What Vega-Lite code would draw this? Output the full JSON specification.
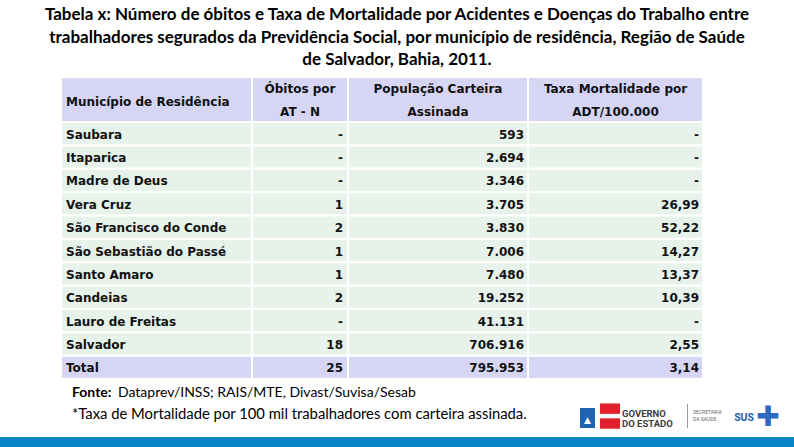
{
  "$schema": "https://vega.github.io/schema/vega-lite/v6.json",
  "background": "white",
  "padding": {"top": 6, "left": 0, "right": 0, "bottom": 0},
  "config": {
    "view": {"stroke": null},
    "locale": {"number": {"decimal": ",", "thousands": ".", "grouping": [3], "currency": ["R$", ""]}}
  },
  "title": {
    "text": [
      "Tabela x: Número de óbitos e Taxa de Mortalidade por Acidentes e Doenças do Trabalho entre",
      "trabalhadores segurados da Previdência Social, por município de residência, Região de Saúde",
      "de Salvador, Bahia, 2011."
    ],
    "anchor": "middle",
    "font": "Lato",
    "fontSize": 17,
    "fontWeight": "bold",
    "lineHeight": 22.5,
    "offset": 9,
    "color": "#000000"
  },
  "datasets": {
    "tab": [
      {"mun": "Saubara", "obitos": null, "pop": 593, "taxa": null},
      {"mun": "Itaparica", "obitos": null, "pop": 2694, "taxa": null},
      {"mun": "Madre de Deus", "obitos": null, "pop": 3346, "taxa": null},
      {"mun": "Vera Cruz", "obitos": 1, "pop": 3705, "taxa": 26.99},
      {"mun": "São Francisco do Conde", "obitos": 2, "pop": 3830, "taxa": 52.22},
      {"mun": "São Sebastião do Passé", "obitos": 1, "pop": 7006, "taxa": 14.27},
      {"mun": "Santo Amaro", "obitos": 1, "pop": 7480, "taxa": 13.37},
      {"mun": "Candeias", "obitos": 2, "pop": 19252, "taxa": 10.39},
      {"mun": "Lauro de Freitas", "obitos": null, "pop": 41131, "taxa": null},
      {"mun": "Salvador", "obitos": 18, "pop": 706916, "taxa": 2.55},
      {"mun": "Total", "obitos": 25, "pop": 795953, "taxa": 3.14}
    ],
    "head": [
      {"col": "c1", "label": "Município de Residência"},
      {"col": "c2", "label": "Óbitos por\nAT - N"},
      {"col": "c3", "label": "População Carteira\nAssinada"},
      {"col": "c4", "label": "Taxa Mortalidade por\nADT/100.000"}
    ],
    "foot": [
      {"line": "l1", "bold": "Fonte:", "text": "Dataprev/INSS; RAIS/MTE, Divast/Suvisa/Sesab"},
      {"line": "l2", "bold": "", "text": "*Taxa de Mortalidade por 100 mil trabalhadores com carteira assinada."}
    ],
    "logo": [
      {"part": "flag", "label": "▲"},
      {"part": "bars", "bar": "top"},
      {"part": "bars", "bar": "bottom"},
      {"part": "gov", "label": "GOVERNO\nDO ESTADO"},
      {"part": "sep"},
      {"part": "sec", "label": "SECRETARIA\nDA SAÚDE"},
      {"part": "sus", "label": "SUS"},
      {"part": "cross", "label": "✚"}
    ]
  },
  "spacing": 2,
  "vconcat": [
    {
      "spacing": 2,
      "hconcat": [
        {"width": 60, "height": 43, "data": {"name": "head"}, "transform": [{"filter": "false"}], "mark": "point"},
        {
          "width": 189, "height": 43,
          "data": {"name": "head"},
          "transform": [{"filter": "datum.col === 'c1'"}],
          "view": {"fill": "#d6d6f4", "stroke": null},
          "mark": {"type": "text", "align": "left", "baseline": "middle", "dx": 4, "dy": 2.5, "font": "DejaVu Sans", "fontSize": 12, "fontWeight": "bold", "color": "#111111"},
          "encoding": {
            "x": {"datum": 0, "type": "quantitative", "scale": {"domain": [0, 1]}, "axis": null},
            "text": {"field": "label", "type": "nominal"}
          }
        },
        {
          "width": 94, "height": 43,
          "data": {"name": "head"},
          "transform": [{"filter": "datum.col === 'c2'"}],
          "view": {"fill": "#d6d6f4", "stroke": null},
          "mark": {"type": "text", "align": "center", "baseline": "middle", "lineBreak": "\n", "lineHeight": 23, "dy": -10.5, "font": "DejaVu Sans", "fontSize": 12, "fontWeight": "bold", "color": "#111111"},
          "encoding": {"text": {"field": "label", "type": "nominal"}}
        },
        {
          "width": 178, "height": 43,
          "data": {"name": "head"},
          "transform": [{"filter": "datum.col === 'c3'"}],
          "view": {"fill": "#d6d6f4", "stroke": null},
          "mark": {"type": "text", "align": "center", "baseline": "middle", "lineBreak": "\n", "lineHeight": 23, "dy": -10.5, "font": "DejaVu Sans", "fontSize": 12, "fontWeight": "bold", "color": "#111111"},
          "encoding": {"text": {"field": "label", "type": "nominal"}}
        },
        {
          "width": 173, "height": 43,
          "data": {"name": "head"},
          "transform": [{"filter": "datum.col === 'c4'"}],
          "view": {"fill": "#d6d6f4", "stroke": null},
          "mark": {"type": "text", "align": "center", "baseline": "middle", "lineBreak": "\n", "lineHeight": 23, "dy": -10.5, "font": "DejaVu Sans", "fontSize": 12, "fontWeight": "bold", "color": "#111111"},
          "encoding": {"text": {"field": "label", "type": "nominal"}}
        }
      ]
    },
    {
      "spacing": 2,
      "hconcat": [
        {"width": 60, "height": 255, "data": {"name": "head"}, "transform": [{"filter": "false"}], "mark": "point"},
        {
          "width": 189, "height": 255,
          "data": {"name": "tab"},
          "encoding": {"y": {"field": "mun", "type": "nominal", "sort": null, "axis": null, "scale": {"type": "band", "paddingInner": 0.095, "paddingOuter": 0}}},
          "layer": [
            {"mark": {"type": "rect"}, "encoding": {"color": {"condition": {"test": "datum.mun === 'Total'", "value": "#d6d6f4"}, "value": "#e6f2ea"}}},
            {
              "mark": {"type": "text", "align": "left", "baseline": "middle", "dx": 4, "dy": 1, "font": "DejaVu Sans", "fontSize": 12, "fontWeight": "bold", "color": "#111111"},
              "encoding": {
                "x": {"datum": 0, "type": "quantitative", "scale": {"domain": [0, 1]}, "axis": null},
                "text": {"field": "mun", "type": "nominal"}
              }
            }
          ]
        },
        {
          "width": 94, "height": 255,
          "data": {"name": "tab"},
          "encoding": {"y": {"field": "mun", "type": "nominal", "sort": null, "axis": null, "scale": {"type": "band", "paddingInner": 0.095, "paddingOuter": 0}}},
          "layer": [
            {"mark": {"type": "rect"}, "encoding": {"color": {"condition": {"test": "datum.mun === 'Total'", "value": "#d6d6f4"}, "value": "#e6f2ea"}}},
            {
              "mark": {"type": "text", "align": "right", "baseline": "middle", "dx": -4, "dy": 1, "font": "DejaVu Sans", "fontSize": 12, "fontWeight": "bold", "color": "#111111"},
              "encoding": {
                "x": {"datum": 1, "type": "quantitative", "scale": {"domain": [0, 1]}, "axis": null},
                "text": {"condition": {"test": "datum.obitos === null", "value": "-"}, "field": "obitos", "type": "quantitative", "format": "d"}
              }
            }
          ]
        },
        {
          "width": 178, "height": 255,
          "data": {"name": "tab"},
          "encoding": {"y": {"field": "mun", "type": "nominal", "sort": null, "axis": null, "scale": {"type": "band", "paddingInner": 0.095, "paddingOuter": 0}}},
          "layer": [
            {"mark": {"type": "rect"}, "encoding": {"color": {"condition": {"test": "datum.mun === 'Total'", "value": "#d6d6f4"}, "value": "#e6f2ea"}}},
            {
              "mark": {"type": "text", "align": "right", "baseline": "middle", "dx": -3, "dy": 1, "font": "DejaVu Sans", "fontSize": 12, "fontWeight": "bold", "color": "#111111"},
              "encoding": {
                "x": {"datum": 1, "type": "quantitative", "scale": {"domain": [0, 1]}, "axis": null},
                "text": {"field": "pop", "type": "quantitative", "format": ",d"}
              }
            }
          ]
        },
        {
          "width": 173, "height": 255,
          "data": {"name": "tab"},
          "encoding": {"y": {"field": "mun", "type": "nominal", "sort": null, "axis": null, "scale": {"type": "band", "paddingInner": 0.095, "paddingOuter": 0}}},
          "layer": [
            {"mark": {"type": "rect"}, "encoding": {"color": {"condition": {"test": "datum.mun === 'Total'", "value": "#d6d6f4"}, "value": "#e6f2ea"}}},
            {
              "mark": {"type": "text", "align": "right", "baseline": "middle", "dx": -3, "dy": 1, "font": "DejaVu Sans", "fontSize": 12, "fontWeight": "bold", "color": "#111111"},
              "encoding": {
                "x": {"datum": 1, "type": "quantitative", "scale": {"domain": [0, 1]}, "axis": null},
                "text": {"condition": {"test": "datum.taxa === null", "value": "-"}, "field": "taxa", "type": "quantitative", "format": ".2f"}
              }
            }
          ]
        }
      ]
    },
    {
      "spacing": 0,
      "hconcat": [
        {"width": 72, "height": 55, "data": {"name": "head"}, "transform": [{"filter": "false"}], "mark": "point"},
        {
          "width": 508, "height": 55,
          "data": {"name": "foot"},
          "encoding": {
            "y": {"field": "line", "type": "nominal", "sort": null, "axis": null, "scale": {"type": "band", "paddingInner": 0, "paddingOuter": 0.31, "align": 0.19}},
            "x": {"datum": 0, "type": "quantitative", "scale": {"domain": [0, 1]}, "axis": null}
          },
          "layer": [
            {"mark": {"type": "text", "align": "left", "baseline": "middle", "font": "Lato", "fontSize": 14, "fontWeight": "bold", "color": "#000000"}, "encoding": {"text": {"field": "bold", "type": "nominal"}}},
            {"transform": [{"filter": "datum.line === 'l1'"}], "mark": {"type": "text", "align": "left", "baseline": "middle", "dx": 46, "font": "Lato", "fontSize": 14, "color": "#000000"}, "encoding": {"text": {"field": "text", "type": "nominal"}}},
            {"transform": [{"filter": "datum.line === 'l2'"}], "mark": {"type": "text", "align": "left", "baseline": "middle", "dy": 1.5, "font": "Lato", "fontSize": 14.8, "color": "#000000"}, "encoding": {"text": {"field": "text", "type": "nominal"}}}
          ]
        },
        {
          "width": 15, "height": 55,
          "data": {"name": "logo"},
          "transform": [{"filter": "datum.part === 'flag'"}],
          "encoding": {"y": {"datum": "f", "type": "nominal", "axis": null, "scale": {"type": "band", "paddingInner": 0, "paddingOuter": 0.875, "align": 0.8}}},
          "layer": [
            {"mark": {"type": "rect", "color": "#1f63b0"}},
            {"mark": {"type": "text", "baseline": "middle", "dy": 2, "fontSize": 9, "font": "DejaVu Sans", "color": "white"}, "encoding": {"text": {"field": "label", "type": "nominal"}}}
          ]
        },
        {
          "width": 25, "height": 55,
          "data": {"name": "logo"},
          "transform": [{"filter": "datum.part === 'bars'"}],
          "mark": {"type": "rect", "color": "#e0202a"},
          "encoding": {
            "x": {"datum": "b", "type": "nominal", "axis": null, "scale": {"type": "band", "paddingInner": 0, "paddingOuter": 0.125, "align": 1}},
            "y": {"field": "bar", "type": "nominal", "sort": null, "axis": null, "scale": {"type": "band", "paddingInner": 0.3, "paddingOuter": 1.9, "align": 0.789}}
          }
        },
        {
          "width": 67, "height": 55,
          "data": {"name": "logo"},
          "transform": [{"filter": "datum.part === 'gov'"}],
          "mark": {"type": "text", "align": "left", "baseline": "middle", "dx": 2, "dy": 6, "lineBreak": "\n", "lineHeight": 10, "font": "Roboto", "fontSize": 9.5, "fontWeight": "bold", "color": "#3c3c3c"},
          "encoding": {
            "x": {"datum": 0, "type": "quantitative", "scale": {"domain": [0, 1]}, "axis": null},
            "text": {"field": "label", "type": "nominal"}
          }
        },
        {
          "width": 1, "height": 55,
          "data": {"name": "logo"},
          "transform": [{"filter": "datum.part === 'sep'"}],
          "mark": {"type": "rect", "color": "#9a9a9a"},
          "encoding": {"y": {"datum": "s", "type": "nominal", "axis": null, "scale": {"type": "band", "paddingInner": 0, "paddingOuter": 0.6458, "align": 0.774}}}
        },
        {
          "width": 32, "height": 55,
          "data": {"name": "logo"},
          "transform": [{"filter": "datum.part === 'sec'"}],
          "mark": {"type": "text", "align": "left", "baseline": "middle", "dx": 5, "dy": 4.5, "lineBreak": "\n", "lineHeight": 6.5, "font": "Roboto", "fontSize": 5, "color": "#666666"},
          "encoding": {
            "x": {"datum": 0, "type": "quantitative", "scale": {"domain": [0, 1]}, "axis": null},
            "text": {"field": "label", "type": "nominal"}
          }
        },
        {
          "width": 33, "height": 55,
          "data": {"name": "logo"},
          "transform": [{"filter": "datum.part === 'sus'"}],
          "mark": {"type": "text", "align": "right", "baseline": "middle", "dx": -1, "dy": 10.5, "font": "Roboto", "fontSize": 10.5, "fontWeight": "bold", "color": "#1d5fae"},
          "encoding": {
            "x": {"datum": 1, "type": "quantitative", "scale": {"domain": [0, 1]}, "axis": null},
            "text": {"field": "label", "type": "nominal"}
          }
        },
        {
          "width": 26, "height": 55,
          "data": {"name": "logo"},
          "transform": [{"filter": "datum.part === 'cross'"}],
          "mark": {"type": "text", "align": "center", "baseline": "middle", "dy": 10, "font": "DejaVu Sans", "fontSize": 28, "color": "#2a6ac0"},
          "encoding": {"text": {"field": "label", "type": "nominal"}}
        }
      ]
    },
    {
      "width": 794, "height": 10,
      "data": {"name": "head"},
      "transform": [{"filter": "false"}],
      "view": {"fill": "#0a84c8", "stroke": null},
      "mark": "point"
    }
  ]
}
